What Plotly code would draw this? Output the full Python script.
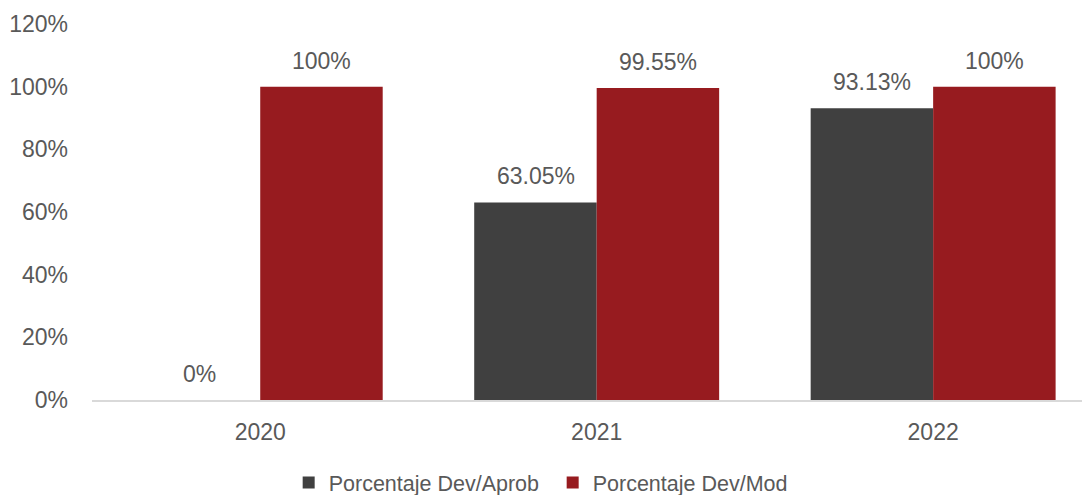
import plotly.graph_objects as go

years = ["2020", "2021", "2022"]
dev_aprob = [0, 63.05, 93.13]
dev_mod = [100, 99.55, 100]
series_names = ["Porcentaje Dev/Aprob", "Porcentaje Dev/Mod"]
colors = ["#404040", "#971B1F"]
y_ticks = [0, 20, 40, 60, 80, 100, 120]
y_tick_labels = ["0%", "20%", "40%", "60%", "80%", "100%", "120%"]

FONT = "Liberation Sans"
TXT = "#595959"
BAR_PX = 122

def lab(v):
    return f"{v:g}%"

fig = go.Figure()
for name, vals, col in zip(series_names, [dev_aprob, dev_mod], colors):
    fig.add_trace(go.Bar(x=years, y=vals, name=name,
                         marker=dict(color=col, line=dict(width=0))))

annotations = []
for si, vals in enumerate([dev_aprob, dev_mod]):
    shift = (-0.5 if si == 0 else 0.5) * BAR_PX
    for ci, v in enumerate(vals):
        annotations.append(dict(x=ci, y=v, xref="x", yref="y", text=lab(v),
                                showarrow=False, xshift=shift, yshift=26,
                                yanchor="middle", xanchor="center",
                                font=dict(family=FONT, size=23, color=TXT)))

fig.update_layout(
    width=1090, height=495,
    margin=dict(l=84, r=0, t=16, b=103),
    paper_bgcolor="white", plot_bgcolor="white",
    barmode="group", bargap=0.272, bargroupgap=0,
    font=dict(family=FONT, size=20, color=TXT),
    showlegend=True,
    annotations=annotations,
    legend=dict(orientation="h", xref="container", x=0.2575, xanchor="left",
                yref="container", y=0.0, yanchor="bottom",
                font=dict(family=FONT, size=21.5, color=TXT),
                itemwidth=30, entrywidth=219, entrywidthmode="pixels",
                traceorder="normal"),
    xaxis=dict(type="category", range=[-0.5, 2.49], showline=True, linecolor="#D9D9D9",
               linewidth=1.5, ticks="", showgrid=False, ticklabelstandoff=11,
               tickfont=dict(family=FONT, size=23, color=TXT)),
    yaxis=dict(range=[0, 120], tickvals=y_ticks, ticktext=y_tick_labels,
               showgrid=False, zeroline=False, showline=False, ticks="",
               ticklabelstandoff=23,
               tickfont=dict(family=FONT, size=23, color=TXT)),
)

fig.write_html("out.html")
